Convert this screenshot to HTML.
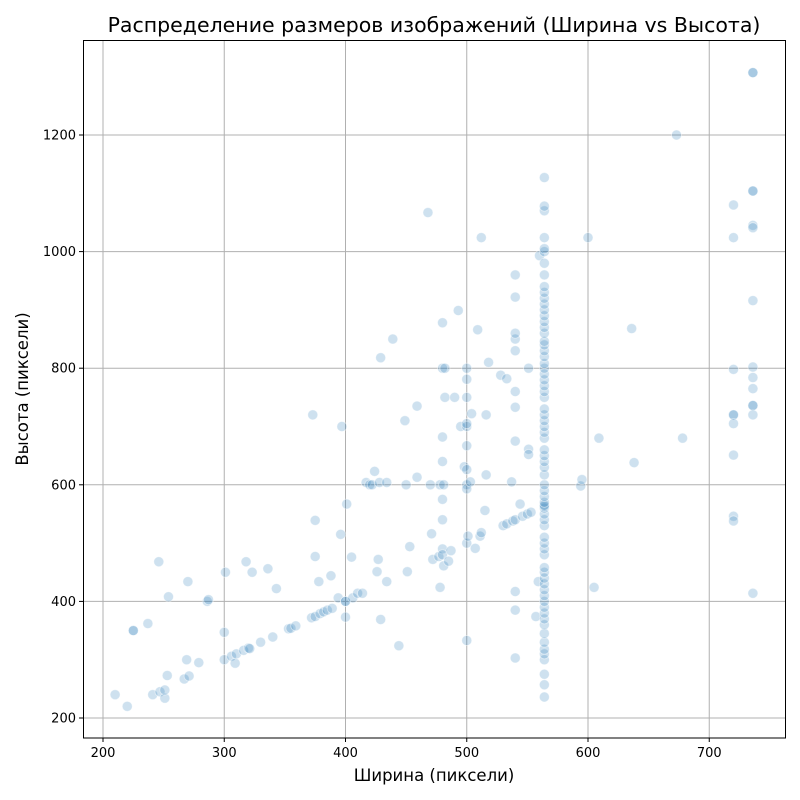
<!DOCTYPE html>
<html><head><meta charset="utf-8"><style>
html,body{margin:0;padding:0;background:#fff}
svg{display:block;font-family:"DejaVu Sans","Liberation Sans",sans-serif}
</style></head><body>
<svg id="chart" width="800" height="800" viewBox="0 0 800 800">
<rect width="800" height="800" fill="#fff"/>
<text x="434" y="32" text-anchor="middle" font-size="20.5">Распределение размеров изображений (Ширина vs Высота)</text>
<g id="grid"></g>
<g id="points"></g>
<rect x="83.5" y="40.5" width="702" height="697.5" fill="none" stroke="#000" stroke-width="1"/>
<g id="ticks"></g>
<text x="434" y="781" text-anchor="middle" font-size="16.5">Ширина (пиксели)</text>
<text transform="translate(28,389) rotate(-90)" text-anchor="middle" font-size="16.5">Высота (пиксели)</text>
</svg>
<script>
const xTicks=[200,300,400,500,600,700];
const yTicks=[200,400,600,800,1000,1200];
const widths=[
210,220,225,225,237,241,246,247,251,251,
253,254,267,269,270,271,279,286,287,300,
300,301,306,309,310,316,318,320,321,323,
330,336,340,343,353,355,359,372,373,375,
375,375,378,379,382,385,388,389,394,396,
397,400,400,400,401,405,406,410,414,417,
420,422,424,426,427,428,429,429,434,434,
439,444,449,450,451,453,459,459,468,470,
471,472,477,478,478,480,480,480,480,481,
480,480,480,480,481,482,482,485,487,490,
493,495,498,500,500,500,500,500,500,500,
500,500,500,500,501,503,504,507,509,511,
512,512,515,516,516,518,528,530,533,533,
537,538,540,540,540,540,540,540,540,540,
540,540,540,540,544,546,550,551,551,551,
553,557,559,560,
564,564,564,564,564,564,564,564,564,564,
564,564,564,564,564,564,564,564,564,564,
564,564,564,564,564,564,564,564,564,564,
564,564,564,564,564,564,564,564,564,564,
564,564,564,564,564,564,564,564,564,564,
564,564,564,564,564,564,564,564,564,564,
564,564,564,564,564,564,564,564,564,564,
564,564,
594,595,600,605,609,636,638,673,678,720,
720,720,720,720,720,720,720,720,736,736,
736,736,736,736,736,736,736,736,736,736,
736,736];
const heights=[
240,220,350,350,362,240,468,245,234,248,
273,408,267,300,434,272,295,400,403,300,
347,450,306,294,310,316,468,320,319,450,
330,456,339,422,353,354,358,372,720,374,
539,477,434,379,382,385,444,388,406,515,
700,400,400,373,567,476,406,414,414,604,
600,600,623,451,472,604,818,369,604,434,
850,324,710,600,451,494,613,735,1067,600,
516,472,477,600,424,800,682,878,640,600,
575,540,490,480,461,800,750,469,487,750,
899,700,631,333,500,750,800,781,700,667,
626,600,593,705,512,605,722,491,866,512,
518,1024,556,617,720,810,788,530,533,782,
605,538,540,303,385,417,675,733,760,830,
850,860,922,960,567,546,550,800,661,652,
553,374,434,993,
236,257,275,300,310,318,330,345,360,370,
380,390,400,410,420,430,440,450,458,480,
490,500,510,530,540,550,560,563,565,570,
580,590,600,617,630,640,650,660,680,690,
700,710,720,730,750,760,770,780,790,800,
808,820,830,840,846,860,870,880,890,900,
910,920,930,940,960,980,1000,1005,1024,1070,
1078,1127,
598,609,1024,424,680,868,638,1200,680,1080,
1024,798,720,720,705,651,546,538,1307,1307,
1104,1104,1045,1041,916,802,784,765,736,736,
720,414];
const NS="http://www.w3.org/2000/svg";
function xs(v){return 103+(v-200)*1.2125;}
function ys(v){return 718-(v-200)*0.583;}
const grid=document.getElementById('grid'),ticks=document.getElementById('ticks'),pts=document.getElementById('points');
function mk(tag,attrs,parent){const e=document.createElementNS(NS,tag);for(const k in attrs)e.setAttribute(k,attrs[k]);parent.appendChild(e);return e;}
xTicks.forEach(t=>{const x=xs(t);
 const g=mk('line',{x1:x,x2:x,y1:40,y2:738,stroke:'#b0b0b0','stroke-width':1},grid);
 
 
 mk('line',{x1:x,x2:x,y1:738,y2:742,stroke:'#000'},ticks);
 const l=mk('text',{x:x,y:757,'text-anchor':'middle','font-size':13},ticks);l.textContent=t;
 
 
});
yTicks.forEach(t=>{const y=ys(t);
 const g=mk('line',{x1:83,x2:785,y1:y,y2:y,stroke:'#b0b0b0','stroke-width':1},grid);
 
 
 mk('line',{x1:79,x2:83,y1:y,y2:y,stroke:'#000'},ticks);
 const l=mk('text',{x:76,y:y+4.5,'text-anchor':'end','font-size':13},ticks);l.textContent=t;
 
 
});
widths.forEach((w,i)=>{
 const c=mk('circle',{cx:xs(w),cy:ys(heights[i]),r:5,fill:'rgba(31,119,180,0.22)',stroke:'rgba(255,255,255,0.5)','stroke-width':0.8},pts);
 
 
});
</script>
</body></html>
